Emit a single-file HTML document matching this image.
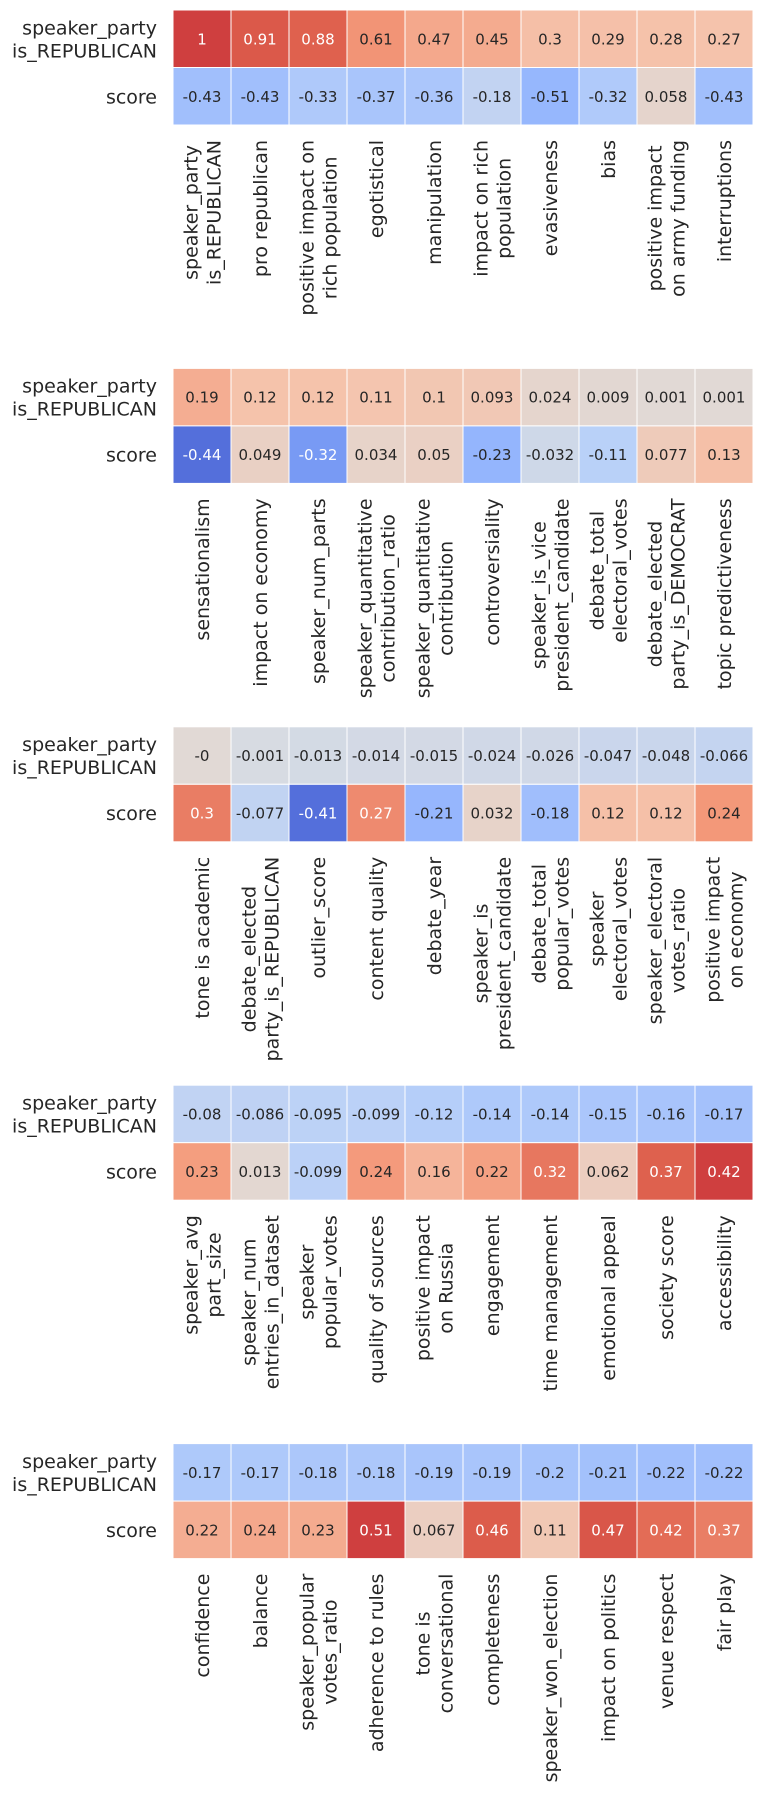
<!DOCTYPE html>
<html><head><meta charset="utf-8"><style>
html,body{margin:0;padding:0;background:#fff;}
svg{display:block;font-family:"DejaVu Sans","Liberation Sans",sans-serif;}
</style></head><body>
<svg id="chart" width="763" height="1797" viewBox="0 0 763 1797" xmlns="http://www.w3.org/2000/svg"></svg>
<script>
const rowLabels = ["speaker_party\nis_REPUBLICAN", "score"];
const panel1Labels = ["speaker_party\nis_REPUBLICAN","pro republican","positive impact on\nrich population","egotistical","manipulation","impact on rich\npopulation","evasiveness","bias","positive impact\non army funding","interruptions"];
const panel1Party = [1,0.91,0.88,0.61,0.47,0.45,0.3,0.29,0.28,0.27];
const panel1Score = [-0.43,-0.43,-0.33,-0.37,-0.36,-0.18,-0.51,-0.32,0.058,-0.43];
const panel2Labels = ["sensationalism","impact on economy","speaker_num_parts","speaker_quantitative\ncontribution_ratio","speaker_quantitative\ncontribution","controversiality","speaker_is_vice\npresident_candidate","debate_total\nelectoral_votes","debate_elected\nparty_is_DEMOCRAT","topic predictiveness"];
const panel2Party = [0.19,0.12,0.12,0.11,0.1,0.093,0.024,0.009,0.001,0.001];
const panel2Score = [-0.44,0.049,-0.32,0.034,0.05,-0.23,-0.032,-0.11,0.077,0.13];
const panel3Labels = ["tone is academic","debate_elected\nparty_is_REPUBLICAN","outlier_score","content quality","debate_year","speaker_is\npresident_candidate","debate_total\npopular_votes","speaker\nelectoral_votes","speaker_electoral\nvotes_ratio","positive impact\non economy"];
const panel3Party = [-0,-0.001,-0.013,-0.014,-0.015,-0.024,-0.026,-0.047,-0.048,-0.066];
const panel3Score = [0.3,-0.077,-0.41,0.27,-0.21,0.032,-0.18,0.12,0.12,0.24];
const panel4Labels = ["speaker_avg\npart_size","speaker_num\nentries_in_dataset","speaker\npopular_votes","quality of sources","positive impact\non Russia","engagement","time management","emotional appeal","society score","accessibility"];
const panel4Party = [-0.08,-0.086,-0.095,-0.099,-0.12,-0.14,-0.14,-0.15,-0.16,-0.17];
const panel4Score = [0.23,0.013,-0.099,0.24,0.16,0.22,0.32,0.062,0.37,0.42];
const panel5Labels = ["confidence","balance","speaker_popular\nvotes_ratio","adherence to rules","tone is\nconversational","completeness","speaker_won_election","impact on politics","venue respect","fair play"];
const panel5Party = [-0.17,-0.17,-0.18,-0.18,-0.19,-0.19,-0.2,-0.21,-0.22,-0.22];
const panel5Score = [0.22,0.24,0.23,0.51,0.067,0.46,0.11,0.47,0.42,0.37];

const panels = [
  {labels: panel1Labels, rows: [panel1Party, panel1Score]},
  {labels: panel2Labels, rows: [panel2Party, panel2Score]},
  {labels: panel3Labels, rows: [panel3Party, panel3Score]},
  {labels: panel4Labels, rows: [panel4Party, panel4Score]},
  {labels: panel5Labels, rows: [panel5Party, panel5Score]}
];

const NS = "http://www.w3.org/2000/svg";
const svg = document.getElementById("chart");
const X0 = 173, CW = 58, RH = 57.5, PANEL_STEP = 358.4, TOP0 = 10;
const stops = [[0,59,76,192],[0.125,98,130,234],[0.25,141,176,254],[0.375,184,208,249],[0.5,221,221,221],[0.625,245,196,173],[0.75,244,154,123],[0.875,222,96,77],[1,180,4,38]];
function cmap(t){
  t = Math.max(0, Math.min(1, t));
  for (let i = 1; i < stops.length; i++) {
    if (t <= stops[i][0]) {
      const a = stops[i-1], b = stops[i], f = (t - a[0]) / (b[0] - a[0]);
      return [0,1,2].map(k => Math.round(a[k+1] + f*(b[k+1]-a[k+1])));
    }
  }
  return stops[stops.length-1].slice(1);
}
function lum(c){
  const l = c.map(v => { v/=255; return v <= 0.03928 ? v/12.92 : Math.pow((v+0.055)/1.055, 2.4); });
  return 0.2126*l[0] + 0.7152*l[1] + 0.0722*l[2];
}
function colorPos(v, maxAbs){
  const m = Math.abs(v) / maxAbs;
  const neg = v < 0 || (v === 0 && !Object.is(v, -0) ? false : v < 0);
  return neg ? 0.5 - (0.02 + 0.40*m) : 0.5 + (0.02 + 0.40*m);
}
function fmt(v){ return (Object.is(v,-0) ? "-0" : String(v)); }
function xScale(i){ return X0 + i*CW; }
function yScale(p, r){ return TOP0 + p*PANEL_STEP + r*RH; }

panels.forEach((panel, p) => {
  const g = document.createElementNS(NS, "g");
  
  
  svg.appendChild(g);
  let maxAbs = 0;
  panel.rows.forEach(r => r.forEach(v => { maxAbs = Math.max(maxAbs, Math.abs(v)); }));
  rowLabels.forEach((lab, r) => {
    const cy = yScale(p, r) + RH/2;
    const lines = lab.split("\n");
    const t = document.createElementNS(NS, "text");
    
    
    t.setAttribute("text-anchor", "end");
    t.setAttribute("font-size", "19");
    t.setAttribute("fill", "#262626");
    lines.forEach((ln, k) => {
      const ts = document.createElementNS(NS, "tspan");
      ts.setAttribute("x", 157);
      ts.setAttribute("y", cy + 7 + (k - (lines.length-1)/2)*23);
      ts.textContent = ln;
      t.appendChild(ts);
    });
    g.appendChild(t);
  });
  panel.rows.forEach((row, r) => {
    row.forEach((v, i) => {
      const c = cmap(colorPos(v, maxAbs));
      const x = xScale(i), y = yScale(p, r);
      const rect = document.createElementNS(NS, "rect");
      
      
      rect.setAttribute("x", x); rect.setAttribute("y", y);
      rect.setAttribute("width", CW); rect.setAttribute("height", RH);
      rect.setAttribute("fill", `rgb(${c[0]},${c[1]},${c[2]})`);
      rect.setAttribute("stroke", "#fff"); rect.setAttribute("stroke-width", "1");
      g.appendChild(rect);
      const t = document.createElementNS(NS, "text");
      
      
      t.setAttribute("x", x + CW/2); t.setAttribute("y", y + RH/2 + 5.5);
      t.setAttribute("text-anchor", "middle"); t.setAttribute("font-size", "15");
      t.setAttribute("fill", lum(c) < 0.408 ? "#ffffff" : "#262626");
      t.textContent = fmt(v);
      g.appendChild(t);
    });
  });
  const bottom = yScale(p, 2);
  panel.labels.forEach((lab, i) => {
    const cx = xScale(i) + CW/2;
    const lines = lab.split("\n");
    const t = document.createElementNS(NS, "text");
    
    
    t.setAttribute("font-size", "19");
    t.setAttribute("fill", "#262626");
    t.setAttribute("text-anchor", "middle");
    g.appendChild(t);
    const tspans = lines.map((ln) => {
      const ts = document.createElementNS(NS, "tspan");
      ts.textContent = ln;
      t.appendChild(ts);
      return ts;
    });
    let maxLen = 0;
    tspans.forEach(ts => { maxLen = Math.max(maxLen, ts.getComputedTextLength()); });
    const centerY = bottom + 15 + maxLen/2;
    tspans.forEach((ts, k) => {
      const bx = cx + 7 + (k - (lines.length-1)/2)*23;
      ts.setAttribute("x", -centerY);
      ts.setAttribute("y", bx);
    });
    t.setAttribute("transform", "rotate(-90)");
  });
});
</script>
</body></html>
